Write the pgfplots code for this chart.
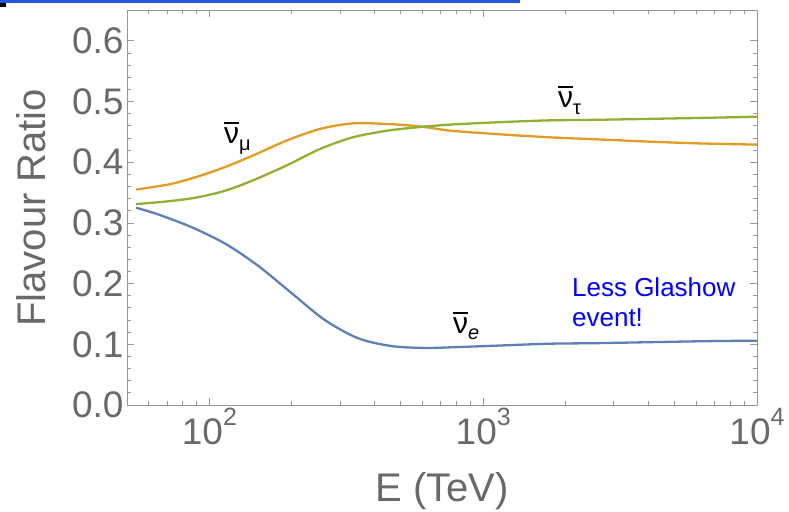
\documentclass[border=0pt]{standalone}
\usepackage{pgfplots}
\pgfplotsset{compat=1.18}
\usepackage{fontspec}
\setmainfont{Liberation Sans}
\definecolor{mblue}{RGB}{94,129,181}
\definecolor{morange}{RGB}{225,156,36}
\definecolor{mgreen}{RGB}{143,176,50}
\definecolor{tickgray}{RGB}{105,105,105}
\definecolor{framegray}{RGB}{150,150,150}
\definecolor{barblue}{RGB}{35,85,215}
\newcommand{\nubar}{\setbox0\hbox{ν}\vbox{\hrule width\wd0 height .08em \kern .12em \box0}}
\newcommand{\sups}[1]{10\raisebox{0.5em}{\fontsize{25}{25}\selectfont #1}}
\begin{document}
\begin{tikzpicture}
\useasboundingbox (0pt,0pt) rectangle (789pt,511pt);
\fill[barblue] (0pt,507.5pt) rectangle (520pt,511pt);
\fill[black] (0pt,504pt) rectangle (6pt,507.5pt);
\begin{axis}[
  at={(127pt,106pt)}, anchor=south west,
  scale only axis, width=630pt, height=394.5pt,
  xmode=log, xmin=50, xmax=10000, ymin=0, ymax=0.65,
  xtick={100,1000,10000},
  xticklabels={\sups{2},\sups{3},\sups{4}},
  minor xtick={60,70,80,90,200,300,400,500,600,700,800,900,2000,3000,4000,5000,6000,7000,8000,9000},
  ytick={0,0.1,0.2,0.3,0.4,0.5,0.6},
  yticklabels={0.0,0.1,0.2,0.3,0.4,0.5,0.6},
  minor y tick num=4,
  tick align=inside,
  major tick length=7pt, minor tick length=4pt,
  axis line style={framegray, line width=0.8pt},
  tick style={framegray, line width=0.8pt},
  tick label style={font=\fontsize{37}{37}\selectfont, text=tickgray},
  xlabel={E (TeV)}, ylabel={Flavour Ratio},
  label style={font=\fontsize{40}{40}\selectfont, text=tickgray},
  xlabel style={at={(axis description cs:0.5,-0.218)}, anchor=center},
  ylabel style={at={(axis description cs:-0.152,0.5)}, anchor=center},
  every axis plot/.append style={line width=2.3pt, smooth, no markers},
  clip=true,
]
% nu_e bar
\addplot[mblue] coordinates {
(54,0.325) (65,0.314) (86,0.293) (114,0.266) (150,0.230) (200,0.184)
(264,0.140) (349,0.110) (464,0.097) (612,0.094) (757,0.095) (1151,0.098)
(1754,0.101) (2673,0.102) (6194,0.105) (10000,0.106)};
% nu_mu bar
\addplot[morange] coordinates {
(54,0.355) (72,0.364) (90,0.376) (114,0.392) (144,0.411) (192,0.436) (254,0.455)
(334,0.464) (446,0.463) (588,0.459) (757,0.452) (1151,0.446) (1754,0.441)
(2673,0.4375) (4000,0.434) (6194,0.431) (10000,0.429)};
% nu_tau bar
\addplot[mgreen] coordinates {
(54,0.331) (72,0.336) (90,0.342) (114,0.353) (144,0.370) (192,0.395) (254,0.422)
(334,0.441) (446,0.452) (588,0.458) (757,0.462) (1151,0.466) (1754,0.469)
(2673,0.470) (6194,0.473) (10000,0.475)};
\node[anchor=base west, inner sep=0pt, font=\fontsize{30}{30}\selectfont] at (axis cs:113,0.431) {\nubar\raisebox{-0.22em}{\fontsize{20}{20}\selectfont μ}};
\node[anchor=base west, inner sep=0pt, font=\fontsize{30}{30}\selectfont] at (axis cs:1876,0.490) {\nubar\raisebox{-0.22em}{\fontsize{20}{20}\selectfont τ}};
\node[anchor=base west, inner sep=0pt, font=\fontsize{30}{30}\selectfont] at (axis cs:776,0.118) {\nubar\raisebox{-0.22em}{\fontsize{20}{20}\selectfont\itshape e}};
\node[anchor=north west, inner sep=0pt, align=left, text=blue, font=\fontsize{26}{30}\selectfont] at (axis cs:2109,0.210) {Less Glashow\\event!};
\end{axis}
\end{tikzpicture}
\end{document}
